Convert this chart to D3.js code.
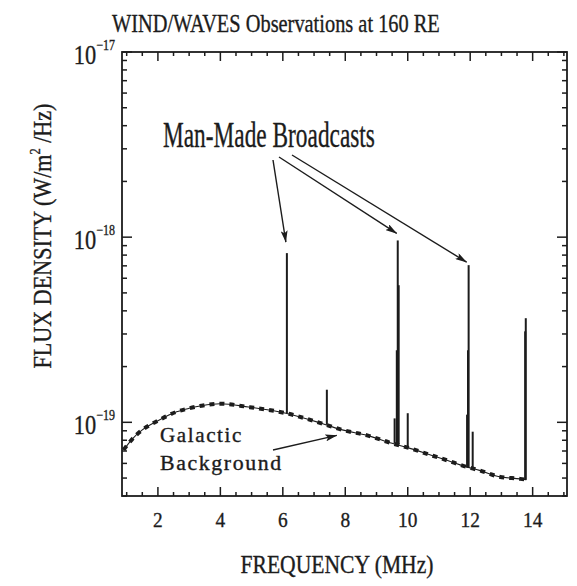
<!DOCTYPE html>
<html>
<head>
<meta charset="utf-8">
<script src="https://cdn.jsdelivr.net/npm/d3@7"></script>
<style>
  html, body { margin: 0; padding: 0; background: #fff; }
  svg { display: block; font-family: "Liberation Serif", "Times New Roman", serif; }
</style>
</head>
<body>
<svg id="chart" width="577" height="586"></svg>
<script>
// Frequency axis labels (MHz)
const freqTicks = [2, 4, 6, 8, 10, 12, 14];
// Decades labelled on the flux axis (powers of ten, W/m^2/Hz)
const fluxDecades = [-17, -18, -19];

// Galactic background spectrum
const bgFreq = [0.9, 1.2, 1.5, 2.0, 2.6, 3.0, 3.4, 4.0, 4.9, 6.1, 7.3, 7.9, 8.7, 9.5, 10.0, 10.8, 11.3, 11.8, 12.3, 12.9, 13.6, 13.8];
const bgFlux = [7.1e-20, 8.2e-20, 9.1e-20, 1.02e-19, 1.14e-19, 1.19e-19, 1.23e-19, 1.26e-19, 1.21e-19, 1.12e-19, 9.8e-20, 9.1e-20, 8.5e-20, 7.7e-20, 7.3e-20, 6.6e-20, 6.2e-20, 5.8e-20, 5.5e-20, 5.1e-20, 4.95e-20, 4.9e-20];

// Narrow-band transmitter lines: frequency, peak flux, flux at the foot of the line
const lineFreq = [6.13, 7.41, 9.58, 9.65, 9.68, 9.71, 10.0, 11.90, 11.93, 11.95, 12.08, 13.76, 13.78];
const linePeak = [8.2e-19, 1.5e-19, 1.05e-19, 2.45e-19, 9.6e-19, 5.5e-19, 1.12e-19, 1.1e-19, 2.45e-19, 7.06e-19, 8.9e-20, 3.1e-19, 3.65e-19];
const lineBase = [1.12e-19, 9.7e-20, 7.7e-20, 7.6e-20, 7.6e-20, 7.6e-20, 7.3e-20, 5.7e-20, 5.7e-20, 5.7e-20, 5.6e-20, 4.9e-20, 4.9e-20];

// Lines singled out by the "Man-Made Broadcasts" arrows
const broadcastFreq = [6.13, 9.68, 11.95];
const broadcastPeak = [8.2e-19, 9.6e-19, 7.06e-19];

const ink = "#1c1c1c";
const plot = { left: 122, top: 52, right: 567, bottom: 496 };

const x = d3.scaleLinear().domain([0.85, 15.1]).range([plot.left, plot.right]);
const y = d3.scaleLog().domain([4e-20, 1e-17]).range([plot.bottom, plot.top]);

const svg = d3.select("#chart");

// Frame
svg.append("rect")
  .attr("x", plot.left).attr("y", plot.top)
  .attr("width", plot.right - plot.left).attr("height", plot.bottom - plot.top)
  .attr("fill", "none").attr("stroke", ink).attr("stroke-width", 1.8);

// ---- tick marks on all four sides, pointing into the plot ----
const minorFreq = d3.range(1, 15.01, 0.5).filter(f => !freqTicks.includes(f));
const minorFlux = [];
[-20, -19, -18].forEach(e => d3.range(2, 10).forEach(m => {
  const v = m * Math.pow(10, e);
  if (v >= 4e-20 && v < 1e-17) minorFlux.push(v);
}));
const decadeVals = fluxDecades.map(e => Math.pow(10, e));

const tickLayer = svg.append("g");
function freqMarks(values, len) {
  [[plot.bottom, -1], [plot.top, 1]].forEach(([y0, dir]) => {
    tickLayer.append("g").selectAll("line").data(values).join("line")
      .attr("x1", d => x(d)).attr("x2", d => x(d))
      .attr("y1", y0).attr("y2", y0 + dir * len)
      .attr("stroke", ink).attr("stroke-width", 1.5);
  });
}
function fluxMarks(values, len) {
  [[plot.left, 1], [plot.right, -1]].forEach(([x0, dir]) => {
    tickLayer.append("g").selectAll("line").data(values).join("line")
      .attr("x1", x0).attr("x2", x0 + dir * len)
      .attr("y1", d => y(d)).attr("y2", d => y(d))
      .attr("stroke", ink).attr("stroke-width", 1.5);
  });
}
freqMarks(minorFreq, 4);
freqMarks(freqTicks, 9);
fluxMarks(minorFlux, 5);
fluxMarks(decadeVals, 10);

// Text squeezed horizontally to a given width (condensed serif look)
function squeezed(parent, build, { tx, ty, width, scale, rotate = 0, anchor = "start" }) {
  const g = parent.append("g");
  const t = g.append("text").attr("text-anchor", anchor)
    .attr("fill", ink).attr("stroke", ink).attr("stroke-width", 0.35);
  build(t);
  let s = scale;
  if (s == null) {
    const w = t.node().getComputedTextLength();
    s = w > 0 ? width / w : 1;
  }
  g.attr("transform", `translate(${tx},${ty}) rotate(${rotate}) scale(${s},1)`);
  return g;
}

// Frequency tick labels
freqTicks.forEach(f => {
  squeezed(svg, t => t.attr("font-size", 22).text(f),
    { tx: x(f), ty: plot.bottom + 31, scale: 0.88, anchor: "middle" });
});

// Flux decade labels: 10 with a raised exponent
fluxDecades.forEach(e => {
  squeezed(svg, t => {
    t.attr("font-size", 28);
    t.append("tspan").text("10");
    t.append("tspan").attr("font-size", 15).attr("dy", -14).text("\u2212" + Math.abs(e));
  }, { tx: 115, ty: y(Math.pow(10, e)) + 12, scale: 0.8, anchor: "end" });
});

// ---- data ----
const bg = bgFreq.map((f, i) => ({ f, v: bgFlux[i] }));
const bgLine = d3.line().x(d => x(d.f)).y(d => y(d.v)).curve(d3.curveMonotoneX);

svg.append("path").datum(bg).attr("d", bgLine)
  .attr("fill", "none").attr("stroke", ink).attr("stroke-width", 1.1);
svg.append("path").datum(bg).attr("d", bgLine)
  .attr("fill", "none").attr("stroke", ink).attr("stroke-width", 4)
  .attr("stroke-dasharray", "5,5");

svg.append("g").selectAll("line")
  .data(lineFreq.map((f, i) => ({ f, peak: linePeak[i], base: lineBase[i] })))
  .join("line")
  .attr("x1", d => x(d.f)).attr("x2", d => x(d.f))
  .attr("y1", d => y(d.base)).attr("y2", d => y(d.peak))
  .attr("stroke", ink).attr("stroke-width", 2);

// ---- annotations ----
squeezed(svg, t => t.attr("font-size", 25).text("WIND/WAVES Observations at 160 RE"),
  { tx: 112, ty: 32, width: 328 });

squeezed(svg, t => t.attr("font-size", 36).text("Man-Made Broadcasts"),
  { tx: 163, ty: 147, width: 212 });

// Arrowhead
svg.append("defs").append("marker")
  .attr("id", "head")
  .attr("markerUnits", "userSpaceOnUse")
  .attr("viewBox", "0 0 12 7")
  .attr("markerWidth", 12).attr("markerHeight", 7)
  .attr("refX", 11.5).attr("refY", 3.5)
  .attr("orient", "auto")
  .append("path").attr("d", "M0,0 L12,3.5 L0,7 L2.5,3.5 Z").attr("fill", ink);

const tails = [[273, 160], [279, 157], [292, 155]];
const tipOffset = [[-1, -11], [-1, -7], [-2, -3]];
broadcastFreq.forEach((f, i) => {
  svg.append("line")
    .attr("x1", tails[i][0]).attr("y1", tails[i][1])
    .attr("x2", x(f) + tipOffset[i][0]).attr("y2", y(broadcastPeak[i]) + tipOffset[i][1])
    .attr("stroke", ink).attr("stroke-width", 1.4)
    .attr("marker-end", "url(#head)");
});

const gal = svg.append("g").attr("font-size", 20).attr("letter-spacing", 1.5);
squeezed(gal, t => t.text("Galactic"), { tx: 160, ty: 442, width: 83 });
squeezed(gal, t => t.text("Background"), { tx: 160, ty: 470, width: 123 });
svg.append("line")
  .attr("x1", 273).attr("y1", 450)
  .attr("x2", x(7.73)).attr("y2", y(8.5e-20))
  .attr("stroke", ink).attr("stroke-width", 1.4)
  .attr("marker-end", "url(#head)");

// Axis titles
squeezed(svg, t => t.attr("font-size", 25).text("FREQUENCY (MHz)"),
  { tx: 337, ty: 573, width: 193, anchor: "middle" });

squeezed(svg, t => {
  t.attr("font-size", 25);
  t.append("tspan").text("FLUX DENSITY (W/m");
  t.append("tspan").attr("font-size", 14).attr("dy", -11).text("2");
  t.append("tspan").attr("dy", 11).text(" /Hz)");
}, { tx: 51, ty: 236, width: 265, rotate: -90, anchor: "middle" });
</script>
</body>
</html>
